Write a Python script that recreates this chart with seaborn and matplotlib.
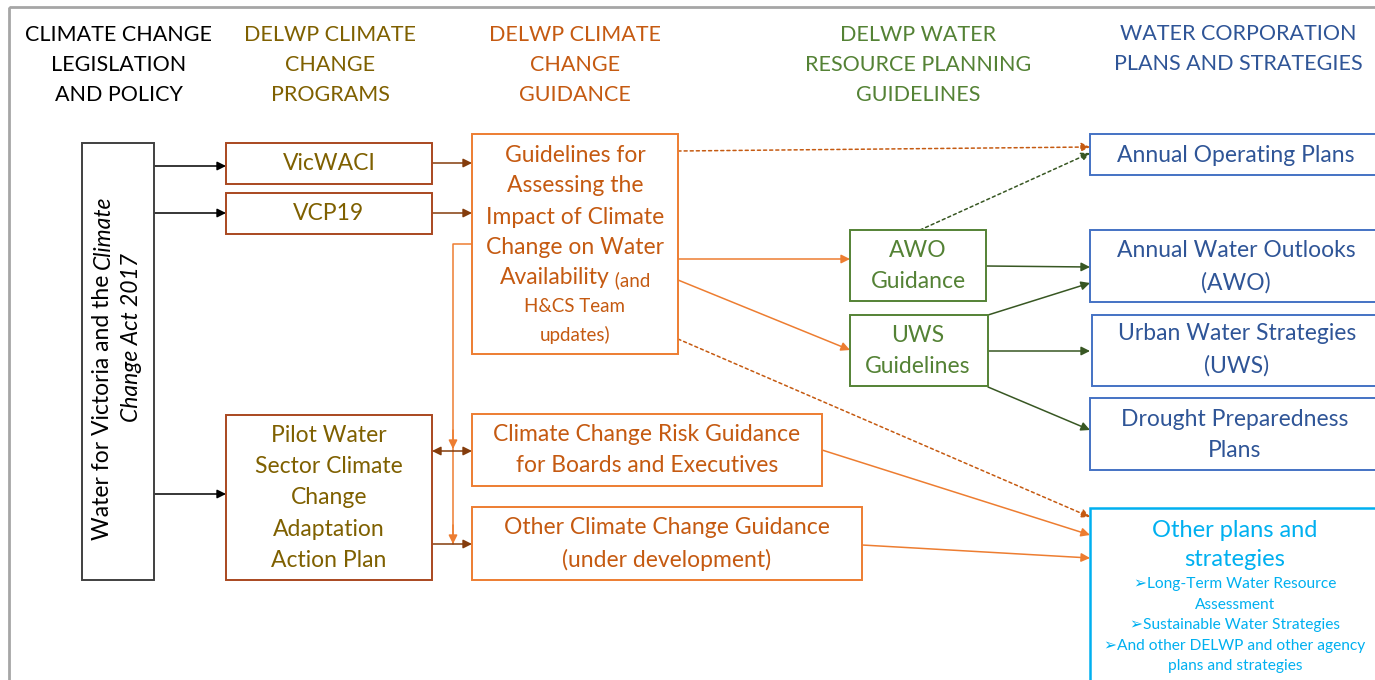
# flowchart: climate change guidance for water resource planning
import matplotlib
matplotlib.use('Agg')
import matplotlib.pyplot as plt
from matplotlib.patches import Rectangle
import seaborn as sns

sns.set_theme(style='white')
plt.rcParams['font.family'] = ['Lato', 'DejaVu Sans']

# column headings
headers = ['CLIMATE CHANGE\nLEGISLATION\nAND POLICY',
           'DELWP CLIMATE\nCHANGE\nPROGRAMS',
           'DELWP CLIMATE\nCHANGE\nGUIDANCE',
           'DELWP WATER\nRESOURCE PLANNING\nGUIDELINES',
           'WATER CORPORATION\nPLANS AND STRATEGIES']

# box labels
programs = ['VicWACI', 'VCP19',
            'Pilot Water\nSector Climate\nChange\nAdaptation\nAction Plan']
guidance = ['Climate Change Risk Guidance\nfor Boards and Executives',
            'Other Climate Change Guidance\n(under development)']
guidelines_main = ['Guidelines for', 'Assessing the', 'Impact of Climate',
                   'Change on Water', 'Availability']
guidelines_small = ['(and', 'H&CS Team', 'updates)']
wrp = ['AWO\nGuidance', 'UWS\nGuidelines']
corp = ['Annual Operating Plans', 'Annual Water Outlooks\n(AWO)',
        'Urban Water Strategies\n(UWS)', 'Drought Preparedness\nPlans']
other_title = 'Other plans and\nstrategies'
other_items = ['\u27a2Long-Term Water Resource', 'Assessment',
               '\u27a2Sustainable Water Strategies',
               '\u27a2And other DELWP and other agency', 'plans and strategies']
legislation = ['Water for Victoria and the ', 'Climate', 'Change Act 2017']

# colours
OLIVE = '#7F6000'
BROWN = '#A9471F'
BROWN_AR = '#843C0C'
ORANGE = '#ED7D31'
ORANGE_T = '#C55A11'
GREEN = '#548235'
DKGREEN = '#385723'
BLUE = '#4472C4'
BLUE_T = '#2F5597'
CYAN = '#00B0F0'

FS = 16.5
LS = 1.6

fig = plt.figure(figsize=(13.75, 6.8), dpi=100)
ax = fig.add_axes([0, 0, 1, 1])
ax.set_xlim(0, 1375)
ax.set_ylim(680, 0)
ax.axis('off')

# outer frame
ax.add_patch(Rectangle((9, 7), 1400, 700, fill=False, ec='#A6A6A6', lw=2))


def box(x0, y0, x1, y1, ec, lw=1.4):
    ax.add_patch(Rectangle((x0, y0), x1 - x0, y1 - y0, fc='white', ec=ec, lw=lw, zorder=2))


def label(x, y, s, color, size=FS, ls=LS, **kw):
    ax.text(x, y, s, color=color, fontsize=size, ha='center', va='center',
            multialignment='center', linespacing=ls, zorder=3, **kw)


def arrow(p0, p1, color, ls='-', style='-|>', lw=1.1):
    ax.annotate('', xy=p1, xytext=p0, zorder=1,
                arrowprops=dict(arrowstyle=style, color=color, lw=lw, linestyle=ls,
                                shrinkA=0, shrinkB=0, mutation_scale=13))


# headings
head_colors = ['black', OLIVE, ORANGE_T, GREEN, BLUE_T]
head_x = [119, 330, 575, 918, 1238]
head_y = [65, 65, 65, 65, 49]
for s, c, x, y in zip(headers, head_colors, head_x, head_y):
    label(x, y, s, c, size=15.5, ls=1.65)

# arrows (drawn first, under boxes)
for y in (166, 213, 494):
    arrow((154, y), (226, y), 'black')
arrow((432, 163), (472, 163), BROWN_AR)
arrow((432, 213), (472, 213), BROWN_AR)
arrow((678, 151), (1090, 147), ORANGE_T, ls=(0, (2, 2)))
arrow((920, 230), (1090, 153), DKGREEN, ls=(0, (2, 2)))
arrow((678, 259), (850, 259), ORANGE)
arrow((678, 280), (850, 350), ORANGE)
arrow((678, 339), (1090, 517), ORANGE_T, ls=(0, (2, 2)))
arrow((986, 266), (1090, 267), DKGREEN)
arrow((988, 315), (1090, 283), DKGREEN)
arrow((988, 351), (1090, 351), DKGREEN)
arrow((988, 387), (1090, 430), DKGREEN)
arrow((822, 450), (1090, 535), ORANGE)
arrow((862, 545), (1090, 558), ORANGE)
ax.plot([472, 453, 453], [244, 244, 544], color=ORANGE, lw=1.1, zorder=1)
arrow((453, 430), (453, 449), ORANGE)
arrow((453, 525), (453, 544), ORANGE)
arrow((432, 451), (472, 451), BROWN_AR, style='<|-|>')
arrow((432, 544), (472, 544), BROWN_AR)

# boxes
box(82, 143, 154, 580, '#404040')
box(226, 143, 432, 184, BROWN)
box(226, 193, 432, 234, BROWN)
box(226, 415, 432, 580, BROWN)
box(472, 134, 678, 354, ORANGE)
box(472, 414, 822, 486, ORANGE)
box(472, 507, 862, 580, ORANGE)
box(850, 230, 986, 301, GREEN)
box(850, 315, 988, 386, GREEN)
box(1090, 134, 1400, 175, BLUE)
box(1090, 230, 1400, 302, BLUE)
box(1092, 315, 1400, 386, BLUE)
box(1090, 398, 1400, 470, BLUE)
box(1090, 508, 1400, 700, CYAN, lw=1.8)

# box texts
for s, (x, y) in zip(programs, [(329, 164), (329, 213), (329, 498)]):
    label(x, y, s, OLIVE)
for s, (x, y) in zip(guidance, [(647, 450), (667, 544)]):
    label(x, y, s, ORANGE_T)
for s, (x, y) in zip(wrp, [(918, 266), (918, 351)]):
    label(x, y, s, GREEN)
for s, (x, y) in zip(corp, [(1236, 155), (1236, 267), (1237, 350), (1235, 435)]):
    label(x, y, s, BLUE_T)
label(1235, 545, other_title, CYAN, size=17, ls=1.5)
for s, y in zip(other_items, [584, 605, 625, 646, 666]):
    label(1235, y, s, CYAN, size=11.2)

fig.canvas.draw()
rend = fig.canvas.get_renderer()

# guidelines box: main lines plus smaller note
for s, y in zip(guidelines_main[:4], [155, 186, 217, 248]):
    label(575, y, s, ORANGE_T)
t1 = ax.text(0, 278, guidelines_main[4], color=ORANGE_T, fontsize=FS, va='center', zorder=3)
t2 = ax.text(0, 280, ' ' + guidelines_small[0], color=ORANGE_T, fontsize=13.5, va='center', zorder=3)
w1 = t1.get_window_extent(rend).width
w2 = t2.get_window_extent(rend).width
x0 = 575 - (w1 + w2) / 2
t1.set_x(x0)
t2.set_x(x0 + w1)
for s, y in zip(guidelines_small[1:], [307, 335]):
    label(575, y, s, ORANGE_T, size=13.5)

# rotated legislation text
r1 = ax.text(103, 540, legislation[0], color='black', fontsize=FS, rotation=90,
             rotation_mode='anchor', ha='left', va='center', zorder=3)
h1 = r1.get_window_extent(rend).height
ax.text(103, 540 - h1, legislation[1], color='black', fontsize=FS, style='italic',
        rotation=90, rotation_mode='anchor', ha='left', va='center', zorder=3)
ax.text(132, 338, legislation[2], color='black', fontsize=FS, style='italic',
        rotation=90, ha='center', va='center', zorder=3)

fig.savefig('out.png', dpi=100)
